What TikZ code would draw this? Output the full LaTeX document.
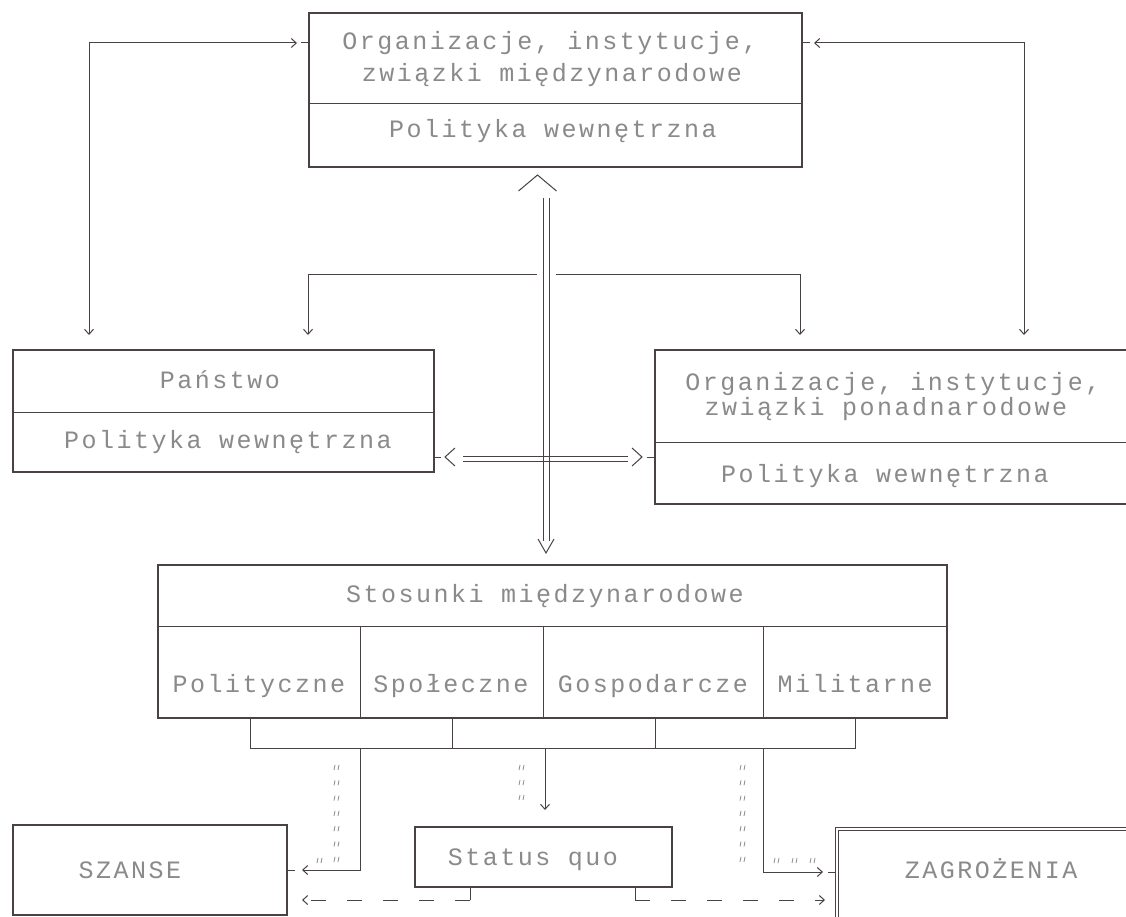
\documentclass[tikz,border=0pt]{standalone}
\usepackage{fontspec}
\newfontfamily\dotfont[LetterSpace=10]{Liberation Mono}
\usetikzlibrary{arrows.meta,calc}
\definecolor{ink}{HTML}{4A4242}
\definecolor{txt}{HTML}{8A8A8A}
\begin{document}
\begin{tikzpicture}[x=1pt,y=-1pt,
  box/.style={draw=ink,line width=1.1pt,anchor=north west,inner sep=0pt,outer sep=0pt},
  lbl/.style={text=txt,font=\dotfont\fontsize{25}{30}\selectfont,inner sep=0pt,anchor=base},
  conn/.style={draw=ink,line width=1pt},
  tip/.style={-{Straight Barb[length=5pt,width=9pt]}},
  tips/.style={{Straight Barb[length=5pt,width=9pt]}-{Straight Barb[length=5pt,width=9pt]}},
  dashconn/.style={conn,dash pattern=on 15pt off 21pt},
  chev/.style={draw=ink,line width=1pt,line join=miter},
  ditto/.style={draw=txt,line width=0.8pt}
]
\fill[white] (0,0) rectangle (1126,917);
\useasboundingbox (0,0) rectangle (1126,917);
\clip (0,0) rectangle (1126,917);

% boxes
\node[box,minimum width=493pt,minimum height=154pt] (top) at (309,13) {};
\node[box,minimum width=421pt,minimum height=122pt] (pan) at (13,350) {};
\node[box,minimum width=490pt,minimum height=154pt] (pon) at (655,350) {};
\node[box,minimum width=789pt,minimum height=153pt] (sto) at (158,565) {};
\node[box,minimum width=274pt,minimum height=90pt] (sza) at (13,825) {};
\node[box,minimum width=257pt,minimum height=60pt] (sq) at (415,827) {};
\node[box,double=white,double distance=2.5pt,line width=1pt,minimum width=320pt,minimum height=110pt] (zag) at (837,829) {};

% dividers
\draw[conn] (top.west |- 0,104) -- (top.east |- 0,104);
\draw[conn] (pan.west |- 0,412) -- (pan.east |- 0,412);
\draw[conn] (pon.west |- 0,442) -- (pon.east |- 0,442);
\draw[conn] (sto.west |- 0,626) -- (sto.east |- 0,626);
\foreach \x in {360,543,763} \draw[conn] (sto.south -| \x,0) -- (\x,626);

% texts
\node[lbl] (t1) at (550,50) {Organizacje, instytucje,};
\node[lbl] (t2) at (552,82) {związki międzynarodowe};
\node[lbl] (t3) at (553,138) {Polityka wewnętrzna};
\node[lbl] (p1) at (220,388) {Państwo};
\node[lbl] (p2) at (228,448) {Polityka wewnętrzna};
\node[lbl] (o1) at (893,390) {Organizacje, instytucje,};
\node[lbl] (o2) at (886,415) {związki ponadnarodowe};
\node[lbl] (o3) at (885,482) {Polityka wewnętrzna};
\node[lbl] (s0) at (545,602) {Stosunki międzynarodowe};
\node[lbl] (c1) at (259,692) {Polityczne};
\node[lbl] (c2) at (451,692) {Społeczne};
\node[lbl] (c3) at (653,692) {Gospodarcze};
\node[lbl] (c4) at (855,692) {Militarne};
\node[lbl] (szt) at (130,878) {SZANSE};
\node[lbl] (sqt) at (533,865) {Status quo};
\node[lbl] (zgt) at (991,878) {ZAGROŻENIA};

% top connectors
\draw[conn,tips,shorten <=15pt,shorten >=12pt] (pan.north -| 89,0) |- (top.west |- 0,43);
\draw[conn] ($(top.west |- 0,43)+(-8,0)$) -- (top.west |- 0,43);
\draw[conn,tips,shorten <=15pt,shorten >=12pt] (pon.north -| 1024,0) |- (top.east |- 0,43);
\draw[conn] ($(top.east |- 0,43)+(8,0)$) -- (top.east |- 0,43);

\coordinate (hl) at (537,274);
\coordinate (hr) at (556,274);
\draw[conn,tip,shorten >=15pt] (hl) -| (pan.north -| 308,0);
\draw[conn,tip,shorten >=15pt] (hr) -| (pon.north -| 800,0);

% central double arrows
\coordinate (vt) at (546,198);
\coordinate (vb) at (546,541);
\draw[conn] ($(vt)+(-3,0)$) -- ($(vb)+(-3,0)$);
\draw[conn] ($(vt)+(3,0)$) -- ($(vb)+(3,0)$);
\draw[chev] ($(vb)+(-8,-2)$) -- ($(vb)+(0,12)$) -- ($(vb)+(8,-2)$);
\draw[chev] ($(top.south)+(-37,24)$) -- ($(top.south)+(-18,8)$) -- ($(top.south)+(1,24)$);

\coordinate (hwl) at (463,459);
\coordinate (hwr) at (628,459);
\draw[conn] ($(hwl)+(0,-2.5)$) -- ($(hwr)+(0,-2.5)$);
\draw[conn] ($(hwl)+(0,2.5)$) -- ($(hwr)+(0,2.5)$);
\draw[chev] (455,448) -- (445,457) -- (455,466);
\draw[conn] (pan.east |- 0,457) -- ++(7,0);
\draw[chev] (632,448) -- (642,457) -- (632,466);
\draw[conn] (pon.west |- 0,457) -- ++(-8,0);

% bracket under Stosunki
\draw[conn] (sto.south -| 250,0) |- (855,748) -- (sto.south -| 855,0);
\draw[conn] (sto.south -| 452,0) -- (452,748);
\draw[conn] (sto.south -| 655,0) -- (655,748);

% outcome connectors
\draw[conn,tip,shorten >=15pt] (360,748) |- (sza.east |- 0,870);
\draw[conn] (sza.east |- 0,870) -- ++(8,0);
\draw[conn,tip,shorten >=17pt] (545,748) -- (sq.north -| 545,0);
\draw[conn,tip,shorten >=14pt] (763,748) |- (zag.west |- 0,872);
\draw[conn] ($(zag.west |- 0,872)+(-2.5,0)$) -- ++(-7,0);

% dashed connectors
\draw[conn] (sq.south -| 470,0) -- (470,900);
\draw[dashconn,tip,shorten >=15pt] (470,900) -- (sza.east |- 0,900);
\draw[conn] (sq.south -| 635,0) -- (635,900);
\draw[dashconn,tip,shorten >=12pt] (635,900) -- (zag.west |- 0,900);

% ditto marks
\foreach \i in {0,...,6} {
  \pgfmathsetmacro\yy{768+\i*15.3}
  \draw[ditto] (335,\yy-3) -- (334,\yy+2) (339,\yy-3) -- (338,\yy+2);
  \draw[ditto] (741,\yy-3) -- (740,\yy+2) (745,\yy-3) -- (744,\yy+2);
}
\foreach \yy in {768,783,798}
  \draw[ditto] (520,\yy-3) -- (519,\yy+2) (524,\yy-3) -- (523,\yy+2);
\foreach \xx in {320,777,795,813}
  \draw[ditto] (\xx-2,858) -- (\xx-3,863) (\xx+2,858) -- (\xx+1,863);
\end{tikzpicture}
\end{document}
